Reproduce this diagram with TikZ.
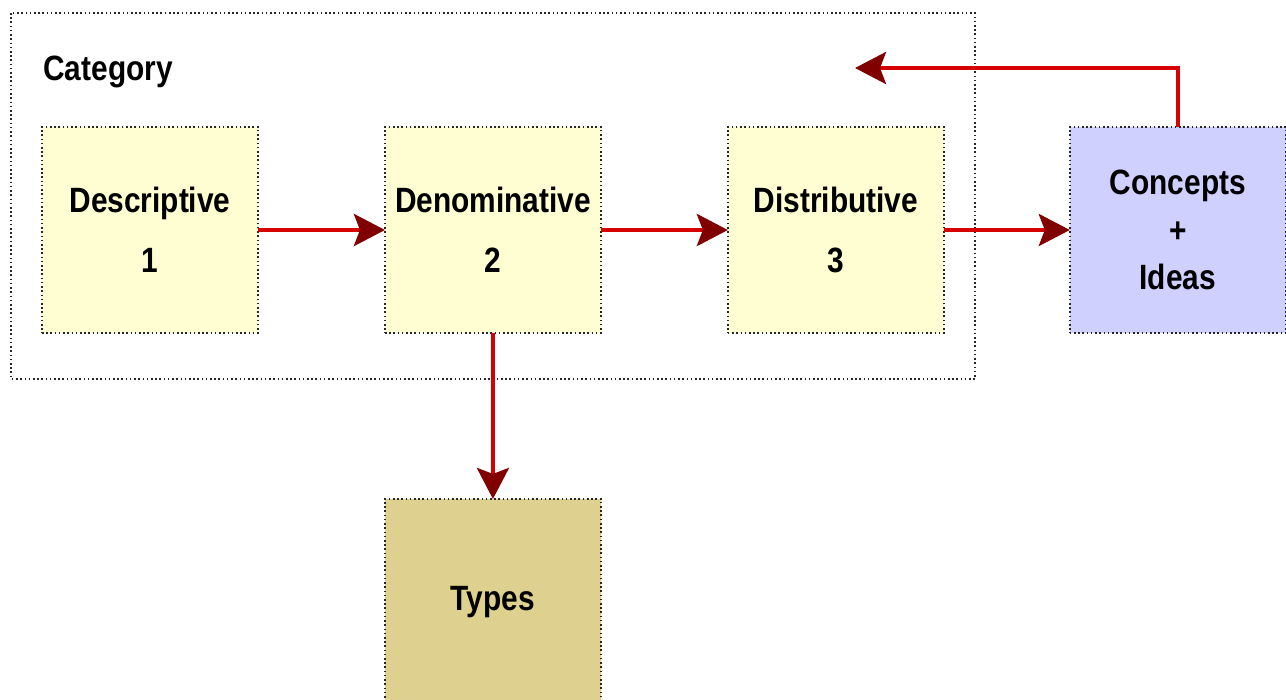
\documentclass[tikz,border=0pt]{standalone}
\usepackage{fontspec}
\setmainfont[FakeStretch=0.85]{Liberation Sans}
\usetikzlibrary{arrows.meta,positioning}
\definecolor{cy}{RGB}{255,253,210}
\definecolor{ct}{RGB}{222,208,142}
\definecolor{cc}{RGB}{208,208,255}
\definecolor{ln}{RGB}{214,0,0}
\definecolor{tip}{RGB}{128,0,0}

\begin{document}
\begin{tikzpicture}[
        x=0.02cm, y=-0.02cm,
        dots/.style={draw=black!85, line width=0.9pt, dash pattern=on 0.9pt off 1.5pt},
        box/.style={shape=rectangle, dots, fill=cy, minimum width=4.32cm, minimum height=4.12cm,
          inner sep=0pt, outer sep=0pt, align=center, font=\fontsize{20}{34}\selectfont\bfseries},
        types/.style={box, fill=ct},
        concept/.style={box, fill=cc, font=\fontsize{20}{27}\selectfont\bfseries},
        flow/.style={-{Stealth[length=0.62cm, width=0.64cm, inset=0.12cm, color=tip]}, line width=2.3pt, ln},
        ]
        \useasboundingbox (0,0) rectangle (1286,700);
        % category frame
        \draw[dots] (11,13) rectangle (975,379);
        \node(cat)[anchor=base west, inner sep=0pt, font=\fontsize{20}{24}\selectfont\bfseries] at (43,80) {Category};

        \node(desc)[box] at (150,230) {Descriptive\\1};
        \node(deno)[box, right=2.54cm of desc] {Denominative\\2};
        \node(dist)[box, right=2.54cm of deno] {Distributive\\3};
        \node(conc)[concept, right=2.52cm of dist] {Concepts\\+\\Ideas};
        \node(typs)[types, below=3.32cm of deno] {Types};
        \coordinate(back) at (855,68);

        \draw[flow](desc)--(deno);
        \draw[flow](deno)--(dist);
        \draw[flow](dist)--(conc);
        \draw[flow](deno)--(typs);
        \draw[flow](conc.north)|-(back);
      \end{tikzpicture}
\end{document}
